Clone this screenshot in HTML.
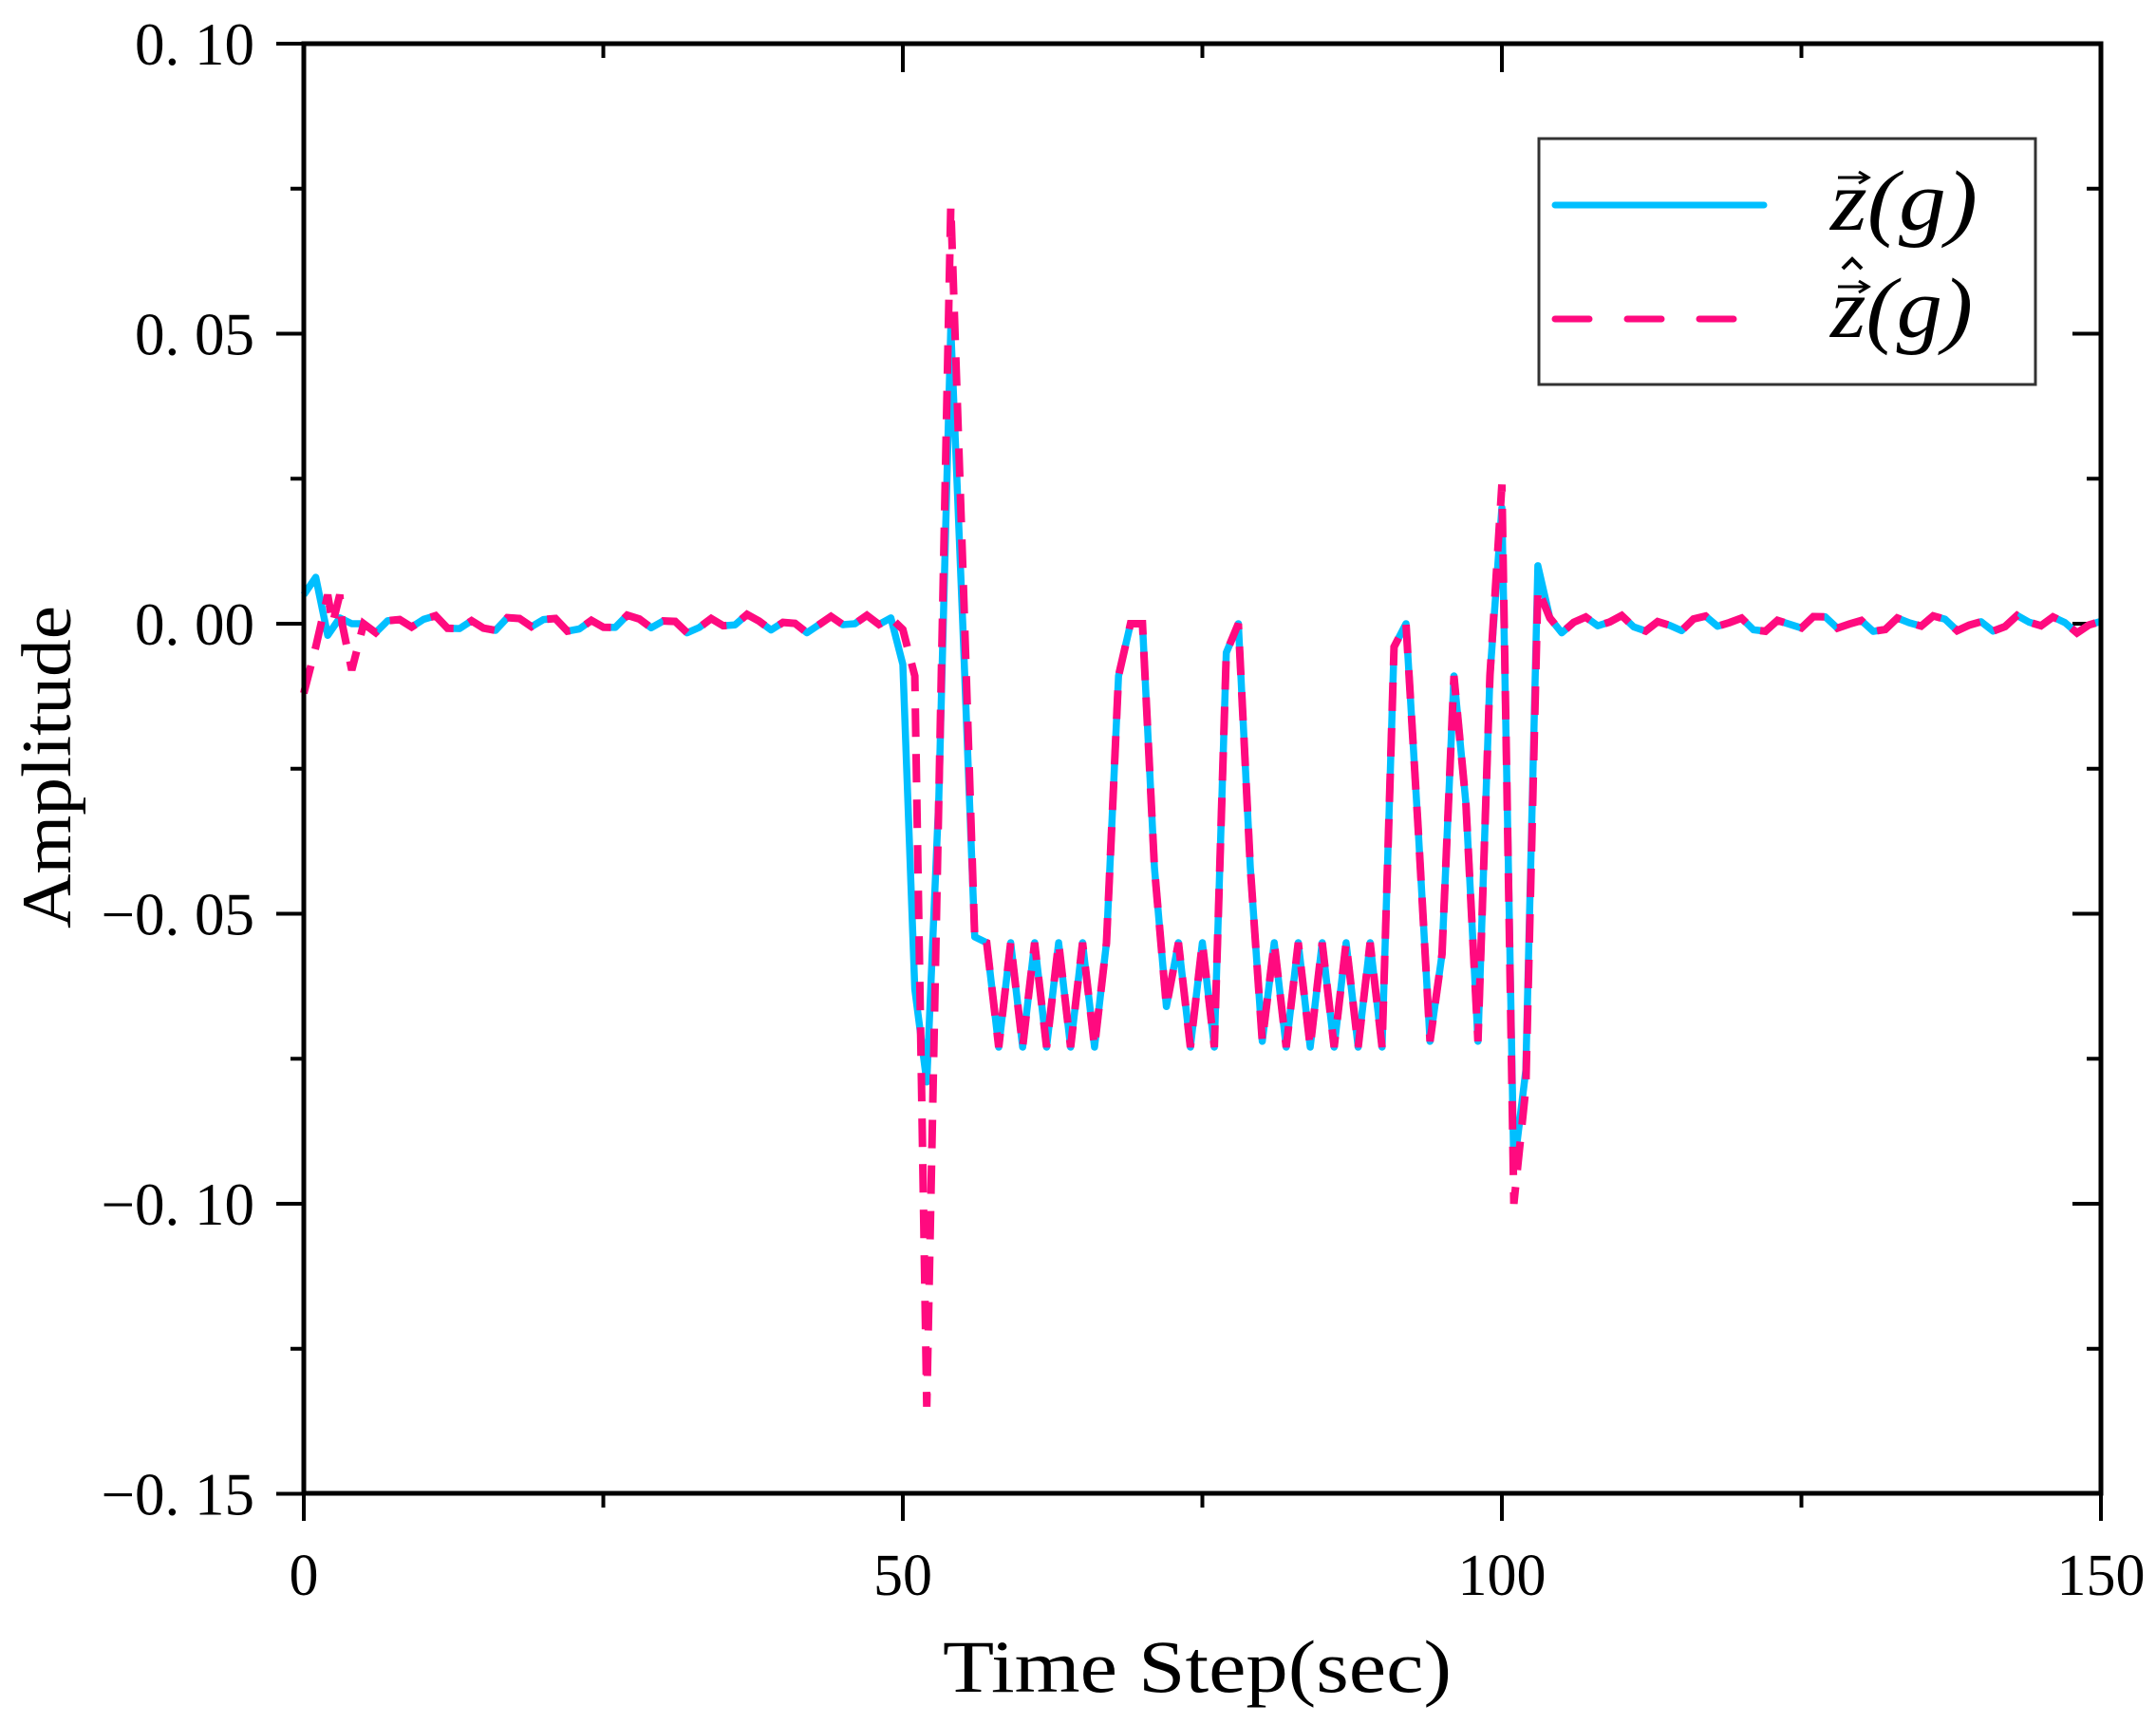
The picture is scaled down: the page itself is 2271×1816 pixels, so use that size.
<!DOCTYPE html>
<html><head><meta charset="utf-8"><style>
html,body{margin:0;padding:0;background:#fff;}
svg{display:block;}
text{font-family:"Liberation Serif",serif;fill:#000;}
</style></head><body>
<svg id="s" width="2271" height="1816" viewBox="0 0 2271 1816" xmlns="http://www.w3.org/2000/svg">
<rect width="2271" height="1816" fill="#fff"/>
<g id="ticks" stroke="#000" stroke-width="4"></g>
<path id="blue" fill="none" stroke="#00BFFF" stroke-width="7.5" stroke-linejoin="round"/>
<path id="pink" fill="none" stroke="#FF0A7F" stroke-width="8" stroke-dasharray="30 18"/>
<rect x="320" y="46" width="1893" height="1527" fill="none" stroke="#000" stroke-width="5"/>
<g font-size="63" text-anchor="end" id="ylab"></g>
<g font-size="62" text-anchor="middle" id="xlab"></g>
<text x="1261" y="1782" font-size="78" text-anchor="middle" font-family="Liberation Mono, monospace" textLength="536" lengthAdjust="spacingAndGlyphs">Time Step(sec)</text>
<text transform="translate(74,808) rotate(-90)" font-size="74" text-anchor="middle" textLength="340" lengthAdjust="spacingAndGlyphs">Amplitude</text>
<rect x="1621" y="146" width="523" height="259" fill="#fff" stroke="#333" stroke-width="3"/>
<line x1="1638" y1="216" x2="1858" y2="216" stroke="#00BFFF" stroke-width="7" stroke-linecap="round"/>
<line x1="1638" y1="336" x2="1830" y2="336" stroke="#FF0A7F" stroke-width="7" stroke-dasharray="36 40" stroke-linecap="round"/>
<text x="1928" y="242" font-size="90" font-style="italic" textLength="155" lengthAdjust="spacingAndGlyphs">z(g)</text>
<text x="1928" y="355" font-size="90" font-style="italic" textLength="150" lengthAdjust="spacingAndGlyphs">z(g)</text>
<g stroke="#000" stroke-width="3" fill="none">
<line x1="1936" y1="187" x2="1966" y2="187"/><path d="M1958,181 L1968,187 L1958,193"/>
<line x1="1936" y1="302" x2="1966" y2="302"/><path d="M1958,296 L1968,302 L1958,308"/>
<path d="M1941,283 L1951,273 L1961,283" stroke-width="4"/>
</g>
</svg>
<script>
const X=t=>320+t*12.62, Y=v=>657-v*6110;
const ns="http://www.w3.org/2000/svg";
const tk=document.getElementById('ticks');
function ln(a,b,c,d){const l=document.createElementNS(ns,'line');l.setAttribute('x1',a);l.setAttribute('y1',b);l.setAttribute('x2',c);l.setAttribute('y2',d);tk.appendChild(l);}
for(let i=0;i<=10;i++){const v=0.1-i*0.025,y=Y(v),maj=i%2==0;
 ln(maj?291:306,y,320,y); ln(2213,y,maj?2183:2198,y);}
for(let i=0;i<=6;i++){const t=i*25,x=X(t),maj=i%2==0;
 ln(x,1573,x,maj?1602:1588); ln(x,46,x,maj?76:61);}
const yl=document.getElementById('ylab');
["0. 10","0. 05","0. 00","\u22120. 05","\u22120. 10","\u22120. 15"].forEach((s,i)=>{const t=document.createElementNS(ns,'text');t.setAttribute('x',268);t.setAttribute('y',Y(0.1-i*0.05)+22);t.textContent=s;yl.appendChild(t);});
const xl=document.getElementById('xlab');
[0,50,100,150].forEach(v=>{const t=document.createElementNS(ns,'text');t.setAttribute('x',X(v));t.setAttribute('y',1680);t.textContent=v;xl.appendChild(t);});
function noise(t){return 0.0011*Math.sin(t*1.9)+0.0006*Math.sin(t*0.7+1);}
const B={0:0.005,1:0.008,2:-0.002,3:0.001,4:0,5:0,49:0.001,50:-0.007,51:-0.063,52:-0.079,53:-0.03,54:0.051,55:0.0,56:-0.054,57:-0.055,
68:-0.009,69:0,70:0,71:-0.042,72:-0.066,77:-0.005,78:0,79:-0.042,80:-0.072,91:-0.004,92:0,93:-0.035,94:-0.072,95:-0.057,96:-0.009,97:-0.031,98:-0.072,99:-0.009,100:0.02,101:-0.094,102:-0.077,103:0.01,104:0.001};
for(let t=58;t<=67;t++)B[t]=(t%2==0)?-0.073:-0.055;
for(let t=73;t<=76;t++)B[t]=(t%2==0)?-0.073:-0.055;
for(let t=81;t<=90;t++)B[t]=(t%2==0)?-0.073:-0.055;
function build(D,extra){let pts=[];for(let t=0;t<=150;t++){let v=(t in D)?D[t]:noise(t);pts.push([t,v]);}
 if(extra){extra.forEach(e=>pts.push(e));pts.sort((a,b)=>a[0]-b[0]);}
 return 'M'+pts.map(p=>X(p[0]).toFixed(1)+','+Y(p[1]).toFixed(1)).join('L');}
document.getElementById('blue').setAttribute('d',build(B));
const P=Object.assign({},B,{0:-0.012,1:-0.004,2:0.005,3:0.005,4:-0.008,5:0,50:-0.001,51:-0.009,52:-0.135,53:-0.03,54:0.072,55:0.01,100:0.024,101:-0.1,102:-0.08,103:0.006});
document.getElementById('pink').setAttribute('d',build(P,[[2.4,0],[3.2,0]]));
</script>
</body></html>
